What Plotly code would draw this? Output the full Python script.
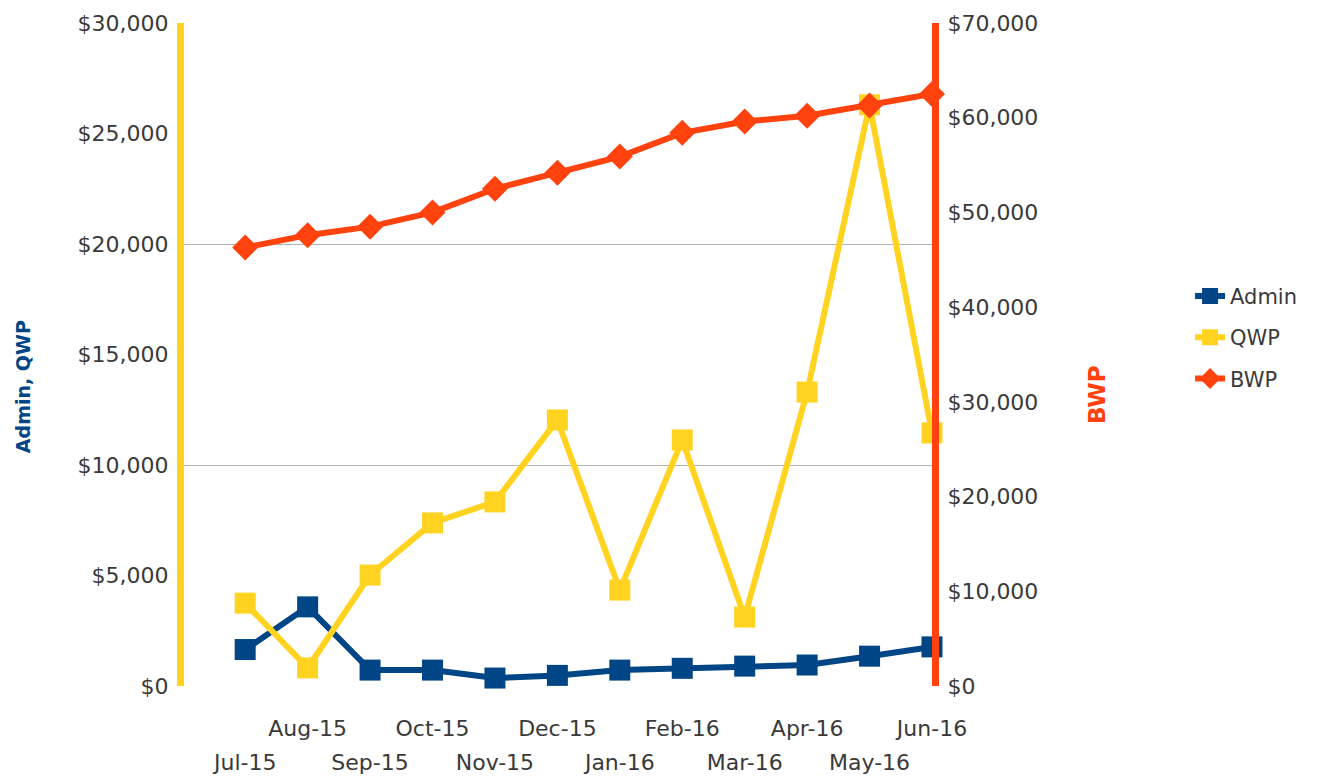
import plotly.graph_objects as go

months = ["Jul-15", "Aug-15", "Sep-15", "Oct-15", "Nov-15", "Dec-15",
          "Jan-16", "Feb-16", "Mar-16", "Apr-16", "May-16", "Jun-16"]
admin = [1650, 3580, 720, 720, 360, 480, 720, 800, 900, 950, 1350, 1770]
qwp = [3750, 820, 5020, 7380, 8330, 12040, 4340, 11130, 3120, 13300, 26300, 11450]
bwp = [46300, 47600, 48500, 50000, 52500, 54200, 55900, 58400, 59600, 60200, 61300, 62500]

left_ticks = [0, 5000, 10000, 15000, 20000, 25000, 30000]
right_ticks = [0, 10000, 20000, 30000, 40000, 50000, 60000, 70000]
grid_ticks = [0, 10000, 20000, 30000]
left_labels = ["$" + format(v, ",") for v in left_ticks]
right_labels = ["$" + format(v, ",") for v in right_ticks]

BLUE = "#004586"
YELLOW = "#ffd320"
RED = "#ff420e"
FONT = "DejaVu Sans"
TICKC = "#3a3a3a"

fig = go.Figure()
fig.add_trace(go.Scatter(
    x=months, y=admin, name="Admin", mode="lines+markers",
    line=dict(color=BLUE, width=6),
    marker=dict(symbol="square", size=21, color=BLUE),
    cliponaxis=False, legendgroup="a", xaxis="x", yaxis="y"))
fig.add_trace(go.Scatter(
    x=months, y=qwp, name="QWP", mode="lines+markers",
    line=dict(color=YELLOW, width=6),
    marker=dict(symbol="square", size=21, color=YELLOW),
    cliponaxis=False, legendgroup="q", xaxis="x", yaxis="y"))
fig.add_trace(go.Scatter(
    x=months, y=bwp, name="BWP", mode="lines+markers",
    line=dict(color=RED, width=6),
    marker=dict(symbol="diamond", size=20, color=RED),
    cliponaxis=False, legendgroup="b", xaxis="x", yaxis="y2"))
# helper traces (invisible) so the extra axes are drawn
fig.add_trace(go.Scatter(x=months, y=[None] * len(months), xaxis="x2", yaxis="y",
                         showlegend=False, hoverinfo="skip", mode="lines"))
fig.add_trace(go.Scatter(x=months, y=[None] * len(months), xaxis="x", yaxis="y3",
                         showlegend=False, hoverinfo="skip", mode="lines"))

xr = [-0.98, 11]
tickfont = dict(family=FONT, size=22, color=TICKC)

fig.update_layout(
    width=1320, height=770, autosize=False,
    margin=dict(l=176, r=396, t=15, b=92, pad=0, autoexpand=False),
    paper_bgcolor="white", plot_bgcolor="white",
    showlegend=True,
    legend=dict(x=1.345, y=0.526, xanchor="left", yanchor="middle",
                font=dict(family=FONT, size=21, color=TICKC),
                traceorder="grouped", tracegroupgap=11,
                bgcolor="rgba(0,0,0,0)"),
    xaxis=dict(type="category", categoryorder="array", categoryarray=months,
               range=xr, tickvals=months[1::2], ticktext=months[1::2],
               ticks="outside", ticklen=23, tickcolor="rgba(0,0,0,0)",
               showgrid=False, zeroline=False, showline=False, automargin=False,
               tickfont=tickfont),
    xaxis2=dict(type="category", categoryorder="array", categoryarray=months,
                overlaying="x", side="bottom", anchor="y",
                range=xr, tickvals=months[0::2], ticktext=months[0::2],
                ticks="outside", ticklen=57, tickcolor="rgba(0,0,0,0)",
                showgrid=False, zeroline=False, showline=False, automargin=False,
                tickfont=tickfont),
    yaxis=dict(range=[0, 30000], tickvals=left_ticks, ticktext=left_labels,
               showgrid=False, zeroline=False, automargin=False,
               showline=True, linecolor=YELLOW, linewidth=7,
               ticks="outside", ticklen=4, tickcolor="rgba(0,0,0,0)",
               tickfont=tickfont),
    yaxis2=dict(range=[0, 70000], tickvals=right_ticks, ticktext=right_labels,
                overlaying="y", side="right", anchor="x",
                showgrid=False, zeroline=False, automargin=False,
                showline=True, linecolor=RED, linewidth=7,
                ticks="outside", ticklen=4, tickcolor="rgba(0,0,0,0)",
                tickfont=tickfont),
    yaxis3=dict(range=[0, 30000], tickvals=grid_ticks, overlaying="y", side="left",
                showticklabels=False, ticks="", showgrid=True, automargin=False,
                gridcolor="#b3b3b3", gridwidth=1, zeroline=False, showline=False),
    annotations=[
        dict(text="<b>Admin, QWP</b>", textangle=-90, xref="paper", yref="paper",
             x=-0.215, y=0.451, xanchor="center", yanchor="middle", showarrow=False,
             font=dict(family=FONT, size=19, color=BLUE)),
        dict(text="<b>BWP</b>", textangle=-90, xref="paper", yref="paper",
             x=1.2206, y=0.439, xanchor="center", yanchor="middle", showarrow=False,
             font=dict(family=FONT, size=23, color=RED)),
    ],
)

fig.write_html("out.html")
